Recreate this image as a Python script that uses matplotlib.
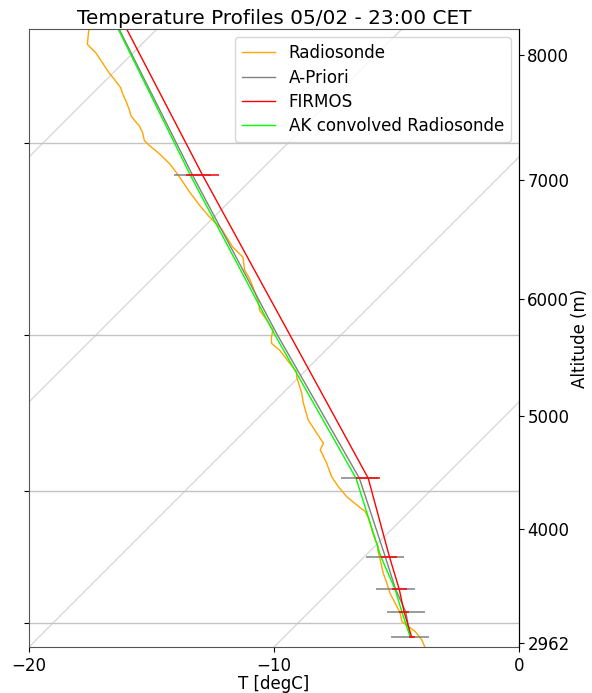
import numpy as np
import matplotlib.pyplot as plt
import matplotlib.transforms as mtransforms
from matplotlib.ticker import NullLocator

# Radiosonde profile (pressure hPa, temperature degC)
sonde_p = [719.5, 714.0, 707.1, 703.0, 698.9, 692.1, 684.1, 676.2, 668.3, 660.6,
           650.4, 642.8, 640.4, 635.4, 628.0, 619.5, 614.7, 610.0, 604.1, 597.1,
           590.2, 581.0, 572.0, 567.6, 561.0, 557.6, 552.4, 541.7, 535.5, 525.2,
           522.2, 517.1, 509.2, 505.2, 501.4, 497.5, 492.7, 486.0, 480.4, 468.4,
           463.9, 456.8, 451.5, 441.9, 435.9, 430.0, 423.4, 418.5, 413.7, 409.6,
           404.9, 401.0, 398.7, 394.9, 391.8, 390.3, 387.3, 384.3, 380.6, 377.0,
           374.8, 371.1, 368.3, 364.0, 359.9, 356.3, 350.0, 346.0]
sonde_t = [-3.88, -4.26, -4.87, -5.35, -5.82, -6.23, -6.84, -7.46, -8.00, -8.55,
           -9.22, -9.74, -9.84, -10.24, -10.79, -11.40, -11.81, -12.42, -13.17, -13.92,
           -14.60, -15.35, -16.16, -16.30, -16.98, -17.33, -17.87, -18.75, -19.22, -20.11,
           -20.31, -20.93, -21.88, -22.49, -22.76, -22.97, -23.51, -24.33, -24.80, -26.03,
           -26.57, -27.18, -28.00, -29.22, -30.18, -31.06, -32.01, -32.69, -33.37, -33.99,
           -34.80, -35.55, -35.96, -36.37, -36.78, -37.04, -37.52, -37.87, -38.34, -38.82,
           -39.09, -39.70, -40.18, -40.86, -41.52, -42.22, -42.78, -43.10]

# A-priori and AK convolved radiosonde
prof_p = [711.8, 691.3, 673.0, 647.9, 591.3, 500.1, 414.9, 340.0]
apriori_t = [-4.84, -6.04, -7.40, -9.15, -13.40, -22.61, -32.61, -43.07]
akconv_t = [-4.84, -6.20, -7.42, -9.33, -13.54, -22.71, -32.70, -43.10]

# FIRMOS retrieval
firmos_p = [711.8, 691.3, 673.0, 647.9, 591.3, 414.9, 340.0]
firmos_t = [-4.78, -6.11, -7.25, -8.98, -13.04, -32.20, -42.78]

# error bars (levels with bars)
err_p = [711.8, 691.3, 673.0, 647.9, 591.3, 414.9]
err_apriori_t = [-4.84, -6.04, -7.40, -9.15, -13.40, -32.61]
err_apriori = [0.78, 0.78, 0.78, 0.77, 0.76, 0.76]
err_firmos_t = [-4.78, -6.11, -7.25, -8.98, -13.04, -32.20]
err_firmos = [0.12, 0.2, 0.3, 0.33, 0.5, 0.67]

# right axis: altitude labels at pressure levels
alt_labels = ['2962', '4000', '5000', '6000', '7000', '8000']
alt_p = [716.3, 627.3, 549.8, 479.9, 417.4, 360.8]

p_ticks = [700, 600, 500, 400]

FS = 12
W, H = 5.92, 6.93
left, bottom, width, height = 29/592, 46/693, 490/592, 618/693

fig = plt.figure(figsize=(W, H), dpi=100)
ax = fig.add_axes([left, bottom, width, height])
ax.set_yscale('log')
ax.set_xlim(-20, 0)
ax.set_ylim(720, 350)
ax.set_autoscale_on(False)

# skewed-x transform, 45 deg on screen
shear = np.arctan((height * H) / (width * W))
skew = ax.transScale + ax.transLimits + mtransforms.Affine2D().skew(shear, 0) + ax.transAxes

# isotherms
for t in range(-100, 20, 10):
    ax.plot([t, t], [720, 350], transform=skew, color='#d6d6d6', lw=0.9, zorder=0.5)

ax.plot(sonde_t, sonde_p, transform=skew, color='orange', lw=1.0, label='Radiosonde')
ax.plot(apriori_t, prof_p, transform=skew, color='grey', lw=1.0, label='A-Priori')
ax.plot(firmos_t, firmos_p, transform=skew, color='red', lw=1.0, label='FIRMOS')
ax.plot(akconv_t, prof_p, transform=skew, color='lime', lw=1.0, label='AK convolved Radiosonde')

ax.hlines(err_p, np.array(err_apriori_t) - err_apriori, np.array(err_apriori_t) + err_apriori,
          transform=skew, color='grey', lw=1.1)
ax.hlines(err_p, np.array(err_firmos_t) - err_firmos, np.array(err_firmos_t) + err_firmos,
          transform=skew, color='red', lw=1.1)

ax.set_yticks(p_ticks)
ax.set_yticklabels([])
ax.yaxis.set_minor_locator(NullLocator())
ax.yaxis.grid(True, color='#c4c4c4', lw=1.0)
ax.set_xticks([-20, -10, 0])
ax.tick_params(labelsize=FS)
ax.set_xlabel('T [degC]', fontsize=FS, labelpad=0)
ax.set_title('Temperature Profiles 05/02 - 23:00 CET', fontsize=14.4, pad=3.5)
for s in ['left', 'top', 'bottom']:
    ax.spines[s].set_color('#555555')

ax.legend(loc='upper right', fontsize=12.1, labelspacing=0.38)

ax2 = ax.twinx()
ax2.set_yscale('log')
ax2.set_ylim(720, 350)
ax2.set_yticks(alt_p)
ax2.set_yticklabels(alt_labels)
ax2.yaxis.set_minor_locator(NullLocator())
ax2.tick_params(labelsize=FS, pad=2.5)
ax2.set_ylabel('Altitude (m)', fontsize=FS, labelpad=1)
for s in ['left', 'top', 'bottom']:
    ax2.spines[s].set_visible(False)

fig.savefig('out.png', dpi=100)
